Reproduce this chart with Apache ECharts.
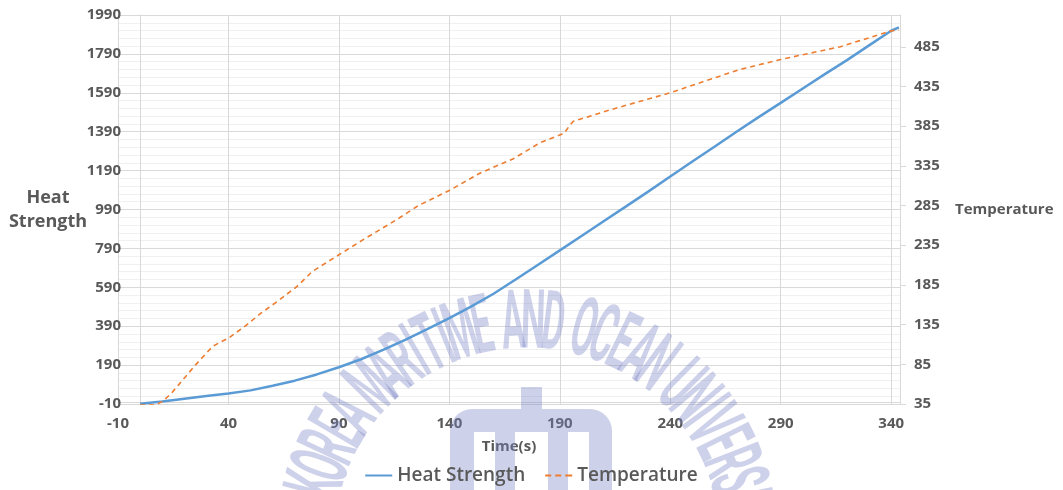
<!DOCTYPE html>
<html>
<head>
<meta charset="utf-8">
<script src="https://cdn.jsdelivr.net/npm/echarts@6/dist/echarts.min.js"></script>
<style>
html,body{margin:0;padding:0;background:#fff;}
#chart{width:1063px;height:490px;}
</style>
</head>
<body>
<div id="chart"></div>
<script>
// Heat Strength (left axis) vs time
const heatTime = [0,10,20,30,40,50,60,70,80,90,100,110,120,130,140,150,160,170,180,190,200,210,220,230,240,250,260,270,280,290,300,310,320,330,340,343.5];
const heatValues = [-9,3,17,31,44,60,84,110,142,179,220,268,320,375,432,492,557,630,705,780,855,931,1006,1082,1160,1237,1313,1390,1465,1538,1612,1686,1758,1834,1909,1926];
// Temperature (right axis) vs time
const tempTime = [0,7,10,14,18,25,33,40,48,55,63,71,78,90,101,116,126,140,154,169,181,190,192,194,196,203,211,226,240,256,271,290,317,340,343.5];
const tempValues = [34,34,38,48,61,84,108,118,134,150,166,183,202,223,242,267,285,304,326,344,364,374,376,384,391,397,404,416,427,442,456,469,485,505,506];
const seriesNames = ['Heat Strength','Temperature'];
const watermarkText = 'KOREA MARITIME AND OCEAN UNIVERSITY';

const heatData = heatTime.map((t,i)=>[t,heatValues[i]]);
const tempData = tempTime.map((t,i)=>[t,tempValues[i]]);

const txt = '#595959';
const font = 'Open Sans';
const wmFill = 'rgba(120,128,198,0.36)';

// watermark: arched text + logo (decoration only)
function buildWatermark(){
  const els = [];
  const cx = 527, cy = 540, r = 213;
  const w = ch => ch === ' ' ? 0.55 : (ch === 'I' ? 0.55 : (ch === 'M' ? 1.15 : 1));
  const chars = watermarkText.split('');
  const startDeg = -75.5, degPerUnit = 5.32;
  let acc = 0;
  chars.forEach((ch)=>{
    const cw = w(ch);
    const centre = acc + cw/2;
    acc += cw;
    if (ch === ' ') return;
    const deg = startDeg + (centre - w(chars[0])/2) * degPerUnit;
    const a = deg*Math.PI/180;
    els.push({
      type:'text', z:1, silent:true,
      x: cx + r*Math.sin(a), y: cy - r*Math.cos(a),
      rotation: -a, scaleX:0.42, scaleY:1,
      style:{text:ch, fill:wmFill, font:'bold 82px Roboto', align:'center', verticalAlign:'middle'}
    });
  });
  const rects = [
    [521,387,21,22,0],
    [450,409,162,23,[22,22,0,0]],
    [450,432,24,60,0],
    [495,432,20,60,0],
    [548,432,20,60,0],
    [589,432,23,60,0]
  ];
  rects.forEach(([x,y,wd,ht,rr])=>{
    els.push({type:'rect', z:1, silent:true, shape:{x,y,width:wd,height:ht,r:rr}, style:{fill:wmFill}});
  });
  return els;
}

const chart = echarts.init(document.getElementById('chart'), null, {renderer:'canvas'});
chart.setOption({
  animation:false,
  backgroundColor:'#fff',
  grid:{left:118,right:163,top:15,bottom:86,containLabel:false},
  legend:{
    bottom:0, left:'center',
    itemWidth:27, itemHeight:2, itemGap:20,
    textStyle:{color:txt,fontFamily:font,fontWeight:600,fontSize:19},
    data:[
      {name:seriesNames[0], icon:'path://M0,0H27V2H0Z'},
      {name:seriesNames[1], icon:'path://M0,0H6V2H0Z M10,0H16V2H10Z M20,0H27V2H20Z'}
    ]
  },
  xAxis:{
    type:'value', min:-10, max:344, interval:50,
    name:'Time(s)', nameLocation:'middle', nameGap:35, nameMoveOverlap:false,
    nameTextStyle:{color:txt,fontFamily:font,fontWeight:'bold',fontSize:15},
    axisLine:{show:true,lineStyle:{color:'#d9d9d9'}},
    axisTick:{show:false},
    axisLabel:{color:txt,fontFamily:font,fontWeight:'bold',fontSize:15,margin:12,showMaxLabel:false,formatter:v=>String(v)},
    splitLine:{show:true,lineStyle:{color:'#d9d9d9',width:1}}
  },
  yAxis:[{
    type:'value', min:-10, max:1990, interval:200, position:'left',
    name:'Heat\nStrength', nameLocation:'middle', nameRotate:0, nameGap:70, nameMoveOverlap:false,
    nameTextStyle:{color:txt,fontFamily:font,fontWeight:'bold',fontSize:18,lineHeight:24,align:'center'},
    axisLine:{show:true,lineStyle:{color:'#d9d9d9'}},
    axisTick:{show:false},
    axisLabel:{color:txt,fontFamily:font,fontWeight:'bold',fontSize:15,margin:-3,formatter:v=>String(v)},
    splitLine:{show:true,lineStyle:{color:'#d9d9d9',width:1}},
    minorTick:{show:false,splitNumber:5},
    minorSplitLine:{show:true,lineStyle:{color:'#f0f0f0',width:1}}
  },{
    type:'value', min:35, max:525, interval:50, position:'right',
    name:'Temperature', nameLocation:'middle', nameRotate:0, nameGap:55, nameMoveOverlap:false,
    nameTextStyle:{color:txt,fontFamily:font,fontWeight:'bold',fontSize:15,align:'left'},
    axisLine:{show:true,lineStyle:{color:'#d9d9d9'}},
    axisTick:{show:true,inside:false,length:6,lineStyle:{color:'#d9d9d9'}},
    axisLabel:{color:txt,fontFamily:font,fontWeight:'bold',fontSize:15,margin:14,showMaxLabel:false,formatter:v=>String(v)},
    splitLine:{show:false}
  }],
  graphic: buildWatermark(),
  series:[{
    name:seriesNames[0], type:'line', yAxisIndex:0, data:heatData,
    showSymbol:false, symbol:'none', smooth:false, z:3,
    itemStyle:{color:'#5b9bd5'},
    lineStyle:{color:'#5b9bd5',width:2.5},
    markLine:{silent:true,symbol:'none',label:{show:false},
      lineStyle:{color:'#d9d9d9',width:1,type:'solid'},data:[{xAxis:0}], z:1}
  },{
    name:seriesNames[1], type:'line', yAxisIndex:1, data:tempData,
    showSymbol:false, symbol:'none', smooth:false, z:4,
    itemStyle:{color:'#ed7d31'},
    lineStyle:{color:'#ed7d31',width:1.6,type:[5,4]}
  }]
});
</script>
</body>
</html>
